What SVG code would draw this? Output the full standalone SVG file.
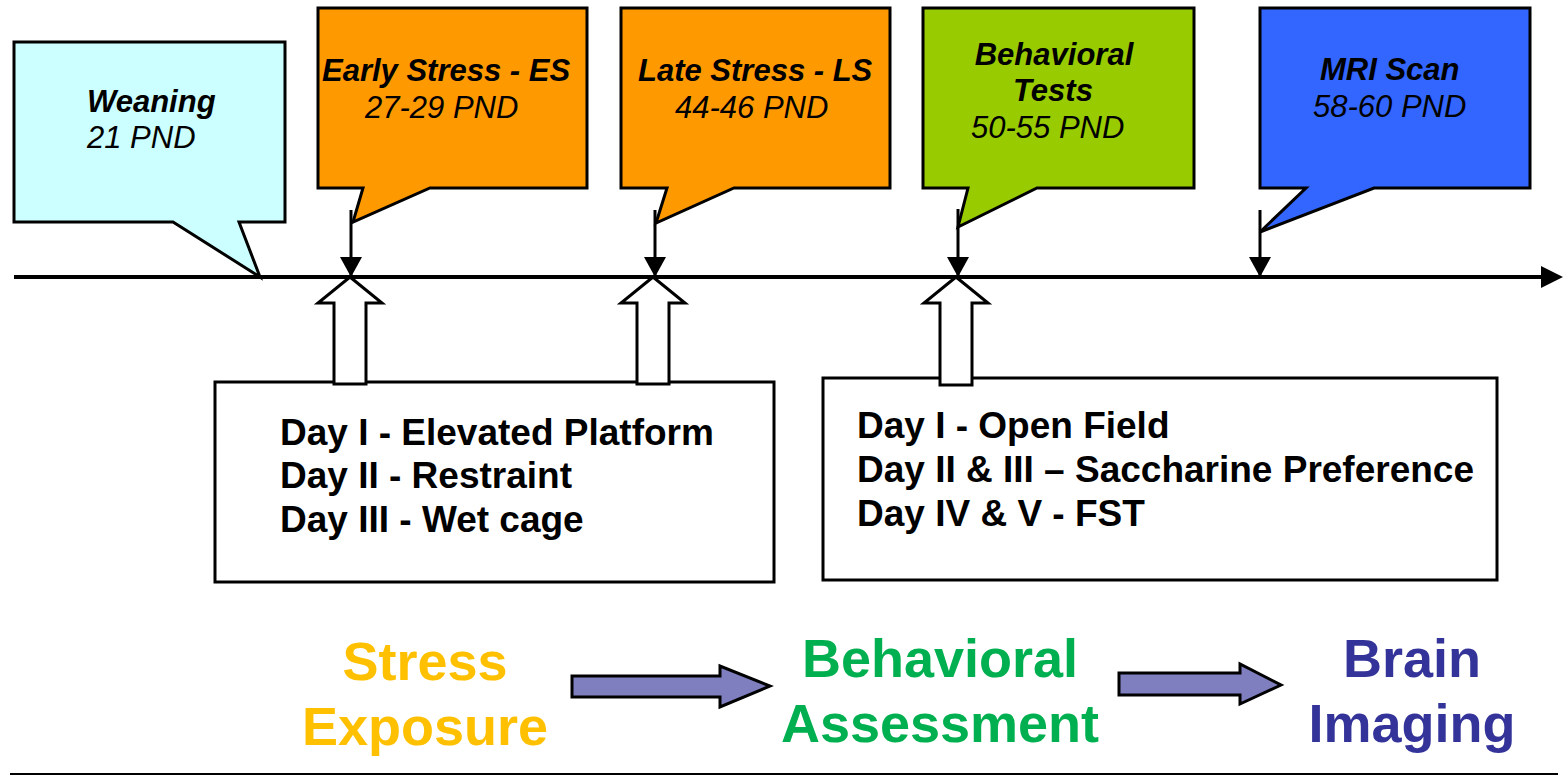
<svg xmlns="http://www.w3.org/2000/svg" width="1568" height="776" viewBox="0 0 1568 776">
  <style>
    .callout { stroke: #000; stroke-width: 3; stroke-linejoin: miter; }
    .box { fill: #fff; stroke: #000; stroke-width: 3; }
    .hollow { fill: #fff; stroke: #000; stroke-width: 3; stroke-linejoin: miter; }
    .tick { stroke: #000; stroke-width: 3; fill: none; }
    .axis { stroke: #000; stroke-width: 4; fill: none; }
    .flow { fill: #7F7FBF; stroke: #000; stroke-width: 3; stroke-linejoin: miter; }
    .ttl { font-family: "Liberation Sans", Arial, sans-serif; font-size: 31px; font-weight: bold; font-style: italic; fill: #000; }
    .sub { font-family: "Liberation Sans", Arial, sans-serif; font-size: 31px; font-style: italic; fill: #000; }
    .day { font-family: "Liberation Sans", Arial, sans-serif; font-size: 37px; font-weight: bold; fill: #000; }
    .phase { font-family: "Liberation Sans", Arial, sans-serif; font-size: 54px; font-weight: bold; text-anchor: middle; }
  </style>
  <defs>
    <marker id="tip" markerWidth="22" markerHeight="22" refX="20" refY="11" orient="auto" markerUnits="userSpaceOnUse">
      <path d="M0,0 L20,11 L0,22 Z" fill="#000"/>
    </marker>
  </defs>

  <rect width="1568" height="776" fill="#fff"/>

  <!-- timeline axis and event pointers -->
  <g id="connectors">
    <line class="axis" x1="14" y1="277" x2="1543" y2="277"/>
    <path d="M1541,266 L1563,277 L1541,288 Z" fill="#000"/>
    <line class="tick" x1="351" y1="210" x2="351" y2="277" marker-end="url(#tip)"/>
    <line class="tick" x1="655" y1="210" x2="655" y2="277" marker-end="url(#tip)"/>
    <line class="tick" x1="958" y1="209" x2="958" y2="277" marker-end="url(#tip)"/>
    <line class="tick" x1="1260" y1="210" x2="1260" y2="277" marker-end="url(#tip)"/>
  </g>

  <!-- callouts above the timeline -->
  <g id="weaning">
    <path class="callout" fill="#CCFFFF" d="M14,42 H285 V222 H239 L260,277 L173,222 H14 Z"/>
    <text class="ttl" x="87" y="112">Weaning</text>
    <text class="sub" x="87" y="148">21 PND</text>
  </g>
  <g id="early-stress">
    <path class="callout" fill="#FF9900" d="M318,8 H587 V188 H430 L353,222 L363,188 H318 Z"/>
    <text class="ttl" x="322" y="81">Early Stress - ES</text>
    <text class="sub" x="365" y="118">27-29 PND</text>
  </g>
  <g id="late-stress">
    <path class="callout" fill="#FF9900" d="M621,8 H890 V188 H734 L656,223 L667,188 H621 Z"/>
    <text class="ttl" x="638" y="81">Late Stress - LS</text>
    <text class="sub" x="675" y="118">44-46 PND</text>
  </g>
  <g id="behavioral-tests">
    <path class="callout" fill="#99CC00" d="M923,8 H1194 V188 H1037 L958,227 L968,188 H923 Z"/>
    <text class="ttl" x="1054" y="65" text-anchor="middle">Behavioral</text>
    <text class="ttl" x="1053" y="101" text-anchor="middle">Tests</text>
    <text class="sub" x="971" y="138">50-55 PND</text>
  </g>
  <g id="mri-scan">
    <path class="callout" fill="#3366FF" d="M1260,8 H1530 V188 H1374 L1260,232 L1306,188 H1260 Z"/>
    <text class="ttl" x="1320" y="80">MRI Scan</text>
    <text class="sub" x="1313" y="117">58-60 PND</text>
  </g>

  <!-- stress protocol box -->
  <g id="stress-protocol">
    <rect class="box" x="215" y="382" width="559" height="200"/>
    <text class="day" x="280" y="445">Day I - Elevated Platform</text>
    <text class="day" x="280" y="488">Day II - Restraint</text>
    <text class="day" x="280" y="532">Day III - Wet cage</text>
  </g>
  <!-- behavioral protocol box -->
  <g id="behavioral-protocol">
    <rect class="box" x="823" y="378" width="674" height="202"/>
    <text class="day" x="857" y="438">Day I - Open Field</text>
    <text class="day" x="857" y="482">Day II &amp; III – Saccharine Preference</text>
    <text class="day" x="857" y="526">Day IV &amp; V - FST</text>
  </g>

  <!-- hollow arrows linking boxes to the timeline -->
  <g id="box-links">
    <path class="hollow" d="M350,277 L382,303 H366 V384 H334 V303 H318 Z"/>
    <path class="hollow" d="M653,277 L685,303 H669 V384 H637 V303 H621 Z"/>
    <path class="hollow" d="M956,277 L988,303 H972 V385 H940 V303 H924 Z"/>
  </g>

  <!-- workflow summary -->
  <g id="stress-exposure">
    <text class="phase" x="425" y="680" fill="#FFC000">Stress</text>
    <text class="phase" x="425" y="745" fill="#FFC000">Exposure</text>
  </g>
  <g id="behavioral-assessment">
    <text class="phase" x="940" y="677" fill="#00B050">Behavioral</text>
    <text class="phase" x="940" y="742" fill="#00B050">Assessment</text>
  </g>
  <g id="brain-imaging">
    <text class="phase" x="1412" y="677" fill="#333399">Brain</text>
    <text class="phase" x="1412" y="742" fill="#333399">Imaging</text>
  </g>
  <g id="flow-arrows">
    <path class="flow" d="M572,676 H720 V666 L770,686 L720,707 V697 H572 Z"/>
    <path class="flow" d="M1119,673 H1240 V664 L1281,685 L1240,704 V695 H1119 Z"/>
  </g>

  <line x1="10" y1="774" x2="1558" y2="774" stroke="#000" stroke-width="2"/>
</svg>
